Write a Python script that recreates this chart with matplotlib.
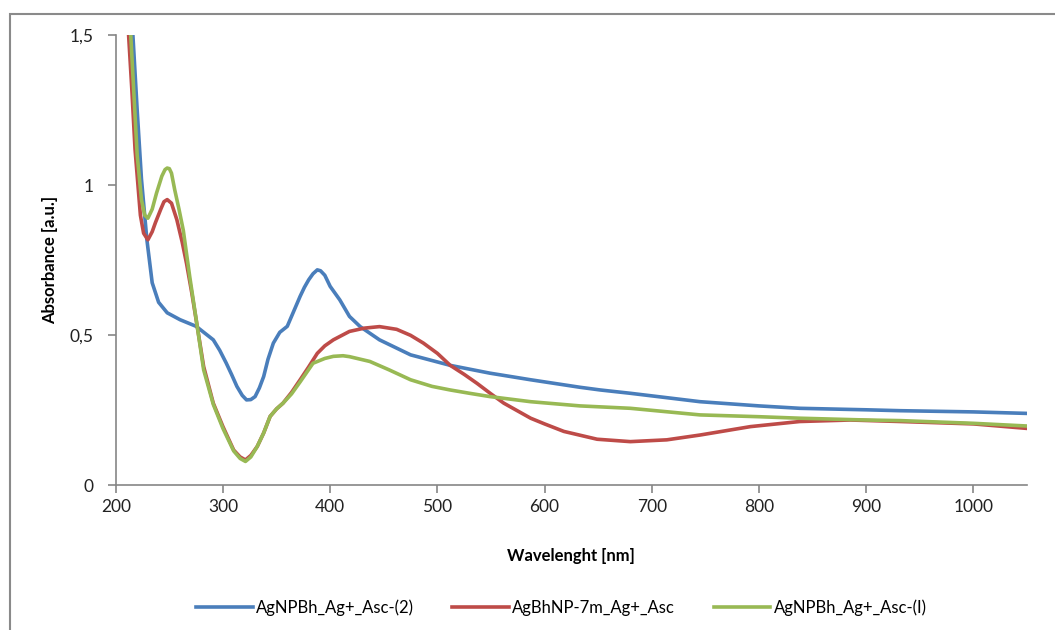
import matplotlib.pyplot as plt
from matplotlib.ticker import FuncFormatter
from matplotlib.patches import Rectangle

plt.rcParams['font.family'] = ['Lato', 'DejaVu Sans']

# AgNPBh_Ag+_Asc-(2)
x_blue = [212, 216, 220, 224, 229, 234, 240, 248, 260, 275, 291, 297, 303, 308, 313, 318,
          322, 326, 330, 334, 338, 342, 347, 353, 360, 366, 372, 376, 380, 384, 388, 391,
          395, 400, 409, 418, 428, 446, 475, 512, 549, 587, 633, 652, 680, 745, 800, 838,
          900, 932, 1000, 1050]
y_blue = [1.75, 1.5, 1.25, 1.02, 0.82, 0.675, 0.61, 0.575, 0.552, 0.53, 0.485, 0.45, 0.408,
          0.37, 0.33, 0.30, 0.285, 0.286, 0.296, 0.325, 0.363, 0.42, 0.474, 0.51, 0.53, 0.58,
          0.63, 0.66, 0.685, 0.705, 0.718, 0.715, 0.70, 0.663, 0.618, 0.563, 0.529, 0.485,
          0.435, 0.40, 0.374, 0.352, 0.327, 0.318, 0.307, 0.279, 0.265, 0.257, 0.252, 0.249,
          0.245, 0.24]

# AgBhNP-7m_Ag+_Asc
x_red = [210, 212, 215, 218, 223, 226, 230, 234, 237, 242, 245, 248, 252, 257, 262, 266, 271,
         276, 282, 291, 300, 310, 316, 321, 326, 332, 338, 344, 350, 356, 364, 372, 380,
         388, 395, 403, 418, 432, 446, 462, 475, 487, 500, 512, 525, 537, 550, 562, 575,
         587, 600, 618, 649, 680, 714, 745, 792, 838, 885, 932, 1000, 1050]
y_red = [1.6, 1.5, 1.32, 1.12, 0.90, 0.84, 0.818, 0.845, 0.875, 0.92, 0.945, 0.952, 0.94,
         0.885, 0.81, 0.74, 0.64, 0.53, 0.396, 0.274, 0.196, 0.118, 0.095, 0.085, 0.10,
         0.13, 0.175, 0.23, 0.255, 0.274, 0.31, 0.352, 0.395, 0.44, 0.465, 0.485, 0.513,
         0.524, 0.529, 0.52, 0.50, 0.474, 0.44, 0.40, 0.37, 0.34, 0.305, 0.274, 0.248,
         0.224, 0.205, 0.18, 0.154, 0.146, 0.152, 0.168, 0.196, 0.213, 0.218, 0.213, 0.205,
         0.19]

# AgNPBh_Ag+_Asc-(I)
x_green = [211, 214, 217, 220, 224, 227, 230, 234, 238, 243, 246, 248, 250, 252, 255, 259,
           263, 269, 276, 282, 291, 300, 310, 316, 321, 326, 332, 338, 344, 350, 356, 364,
           372, 384, 395, 403, 412, 418, 437, 455, 475, 495, 512, 530, 549, 587, 633, 680,
           745, 800, 838, 900, 932, 1000, 1050]
y_green = [1.7, 1.5, 1.3, 1.1, 0.952, 0.9, 0.89, 0.92, 0.973, 1.03, 1.052, 1.057, 1.055,
           1.04, 0.985, 0.92, 0.85, 0.696, 0.53, 0.385, 0.27, 0.19, 0.115, 0.09, 0.08,
           0.095, 0.13, 0.175, 0.23, 0.255, 0.274, 0.305, 0.345, 0.407, 0.423, 0.43, 0.432,
           0.429, 0.413, 0.385, 0.352, 0.33, 0.318, 0.307, 0.296, 0.279, 0.265, 0.257,
           0.235, 0.229, 0.224, 0.218, 0.216, 0.207, 0.198]

labels = ['AgNPBh_Ag+_Asc-(2)', 'AgBhNP-7m_Ag+_Asc', 'AgNPBh_Ag+_Asc-(I)']
colors = ['#4A7EBB', '#BE4B48', '#98B954']

fig = plt.figure(figsize=(10.55, 6.3), dpi=100)
ax = fig.add_axes([0.1097, 0.2294, 0.8638, 0.715])

# outer chart border (only left and top visible in the crop)
fig.patches.append(Rectangle((10 / 1055, -0.1), 1.2, 0.1 + 616 / 630,
                             transform=fig.transFigure, fill=False,
                             edgecolor='#8a8a8a', linewidth=1.5))

for xs, ys, c, lab in zip([x_blue, x_red, x_green], [y_blue, y_red, y_green], colors, labels):
    ax.plot(xs, ys, color=c, linewidth=2.6, label=lab, solid_joinstyle='round')

ax.set_xlim(200, 1050)
ax.set_ylim(0, 1.5)
ax.set_xticks(range(200, 1001, 100))
ax.set_yticks([0, 0.5, 1, 1.5])
ax.yaxis.set_major_formatter(FuncFormatter(lambda v, p: f'{v:g}'.replace('.', ',')))

for s in ['top', 'right']:
    ax.spines[s].set_visible(False)
for s in ['left', 'bottom']:
    ax.spines[s].set_color('#868686')
    ax.spines[s].set_linewidth(1.2)
ax.tick_params(color='#868686', length=6, width=1.2, labelsize=12.5, labelcolor='#222222')
ax.tick_params(axis='y', pad=10)

ax.set_xlabel('Wavelenght [nm]', fontsize=12, fontweight='bold', labelpad=24)
ax.set_ylabel('Absorbance [a.u.]', fontsize=12, fontweight='bold', labelpad=8)

fig.legend(loc='center', bbox_to_anchor=(0.532, 0.036), ncol=3, frameon=False,
           fontsize=12, handlelength=3.4, columnspacing=2.3, handletextpad=0.2)

fig.savefig('out.png', dpi=100)
